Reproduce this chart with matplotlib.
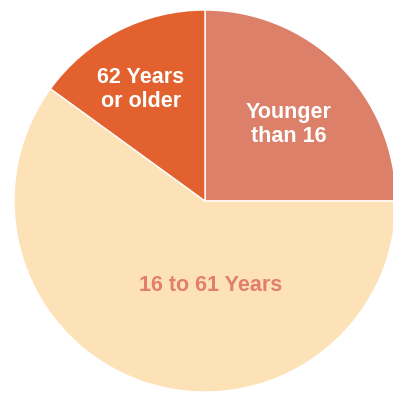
import matplotlib
matplotlib.use('Agg')
import matplotlib.pyplot as plt

plt.rcParams['font.family'] = ['Liberation Sans', 'DejaVu Sans']

# age groups, clockwise from 12 o'clock
groups = ['Younger\nthan 16', '16 to 61 Years', '62 Years\nor older']
shares = [25, 60, 15]
colors = ['#DC806A', '#FDE2B8', '#E2612F']
label_colors = ['white', '#E0806A', 'white']
label_pos = [(0.44, 0.40), (0.03, -0.44), (-0.335, 0.585)]

fig = plt.figure(figsize=(3.93, 3.93), dpi=100)
ax = fig.add_axes([14 / 393, 1 / 393, 382 / 393, 382 / 393])

ax.pie(shares, colors=colors, startangle=90, counterclock=False,
       wedgeprops={'edgecolor': 'white', 'linewidth': 1.0})

for name, (x, y), c in zip(groups, label_pos, label_colors):
    ax.text(x, y, name, ha='center', va='center', color=c,
            fontsize=15.5, fontweight='bold', linespacing=1.2)

ax.set_xlim(-1, 1)
ax.set_ylim(-1, 1)

fig.savefig('out.png', dpi=100)
